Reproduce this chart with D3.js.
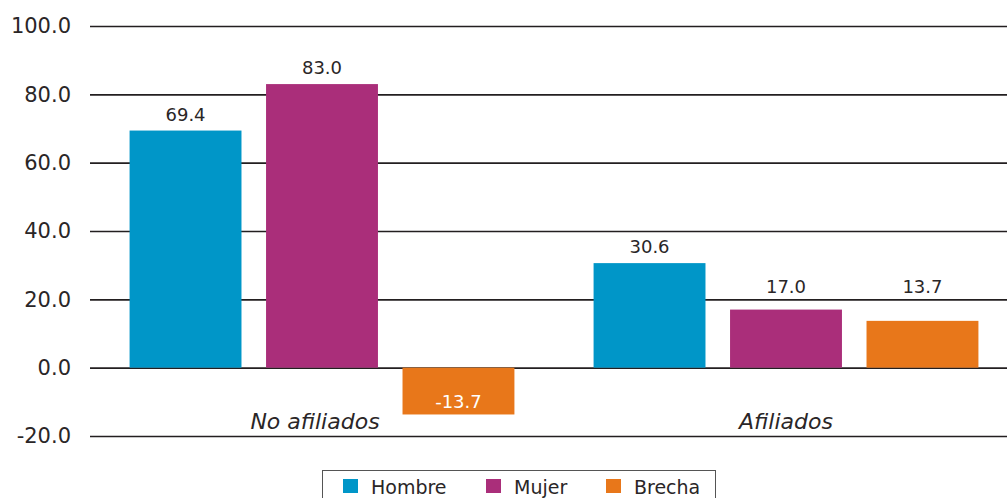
<!DOCTYPE html>
<html>
<head>
<meta charset="utf-8">
<script src="https://cdn.jsdelivr.net/npm/d3@7"></script>
<style>
  html, body { margin: 0; padding: 0; background: #fff; }
  svg { display: block; font-family: "DejaVu Sans", sans-serif; }
</style>
</head>
<body>
<svg id="chart" width="1007" height="498"></svg>
<script>
// Categories and series
const categories = ["No afiliados", "Afiliados"];
const seriesNames = ["Hombre", "Mujer", "Brecha"];
const hombre = [69.4, 30.6];
const mujer = [83.0, 17.0];
const brecha = [-13.7, 13.7];
const yTicks = [-20, 0, 20, 40, 60, 80, 100];
const colors = ["#0096c8", "#aa2e7a", "#e8771a"];

const seriesValues = [hombre, mujer, brecha];

// Number format with a plain hyphen as the minus sign
const fmt = d3.formatLocale({ decimal: ".", thousands: ",", grouping: [3], currency: ["", ""], minus: "-" }).format(".1f");

const svg = d3.select("#chart");
const W = 1007, H = 498;
const textColor = "#2a2627";

const y = d3.scaleLinear().domain([-20, 100]).range([436, 26]);
const x0 = d3.scaleBand().domain(categories).range([90, 1018]).padding(0);
const x1 = d3.scaleBand().domain(seriesNames).range([0, x0.bandwidth()])
  .paddingInner(0.18).paddingOuter(0.29);

// Horizontal grid lines with value labels
const yAxis = d3.axisLeft(y).tickValues(yTicks)
  .tickSize(-(W - 90)).tickPadding(19).tickFormat(fmt);
const gy = svg.append("g").attr("transform", "translate(90,0)").call(yAxis);
gy.select(".domain").remove();
gy.selectAll(".tick line").attr("stroke", "#231f20").attr("stroke-width", 1.6);
gy.selectAll(".tick text").attr("fill", textColor).attr("font-size", 21)
  .attr("font-family", "DejaVu Sans, sans-serif");

// Value label baseline: 10px above the bar, lifted above a grid line it would touch
const labelSize = 18;
function labelBaseline(v) {
  let base = y(v) - 10;
  const top = base - labelSize * 0.75;
  yTicks.forEach(t => {
    const gl = y(t);
    if (gl >= top && gl <= base + 1) base = Math.min(base, gl - 6);
  });
  return base;
}

// Bars with value labels
const groups = svg.append("g").selectAll("g").data(categories).join("g")
  .attr("transform", d => `translate(${x0(d)},0)`);

groups.each(function(cat, ci) {
  const g = d3.select(this);
  seriesNames.forEach((s, si) => {
    const v = seriesValues[si][ci];
    g.append("rect")
      .attr("x", x1(s))
      .attr("width", x1.bandwidth())
      .attr("y", y(Math.max(0, v)))
      .attr("height", Math.abs(y(v) - y(0)))
      .attr("fill", colors[si]);
    const label = g.append("text")
      .attr("x", x1(s) + x1.bandwidth() / 2)
      .attr("text-anchor", "middle")
      .attr("font-size", labelSize)
      .text(fmt(v));
    if (v >= 0) {
      label.attr("y", labelBaseline(v)).attr("fill", textColor);
    } else {
      label.attr("y", y(v) - 6).attr("fill", "#fff");
    }
  });
});

// Category labels
const categoryShift = [-7, 0];
svg.append("g").selectAll("text").data(categories).join("text")
  .attr("x", (d, i) => x0(d) + x0.bandwidth() / 2 + categoryShift[i])
  .attr("y", 429)
  .attr("text-anchor", "middle")
  .attr("font-size", 22)
  .attr("font-style", "italic")
  .attr("fill", textColor)
  .text(d => d);

// Legend
const legend = svg.append("g");
legend.append("rect")
  .attr("x", 322.5).attr("y", 470.5).attr("width", 393).attr("height", 40)
  .attr("fill", "#fff").attr("stroke", "#555").attr("stroke-width", 1);
const legendX = [343, 486, 606];
seriesNames.forEach((s, i) => {
  legend.append("rect").attr("x", legendX[i]).attr("y", 479)
    .attr("width", 15).attr("height", 14).attr("fill", colors[i]);
  legend.append("text").attr("x", legendX[i] + 28).attr("y", 494)
    .attr("font-size", 19).attr("fill", textColor).text(s);
});
</script>
</body>
</html>
